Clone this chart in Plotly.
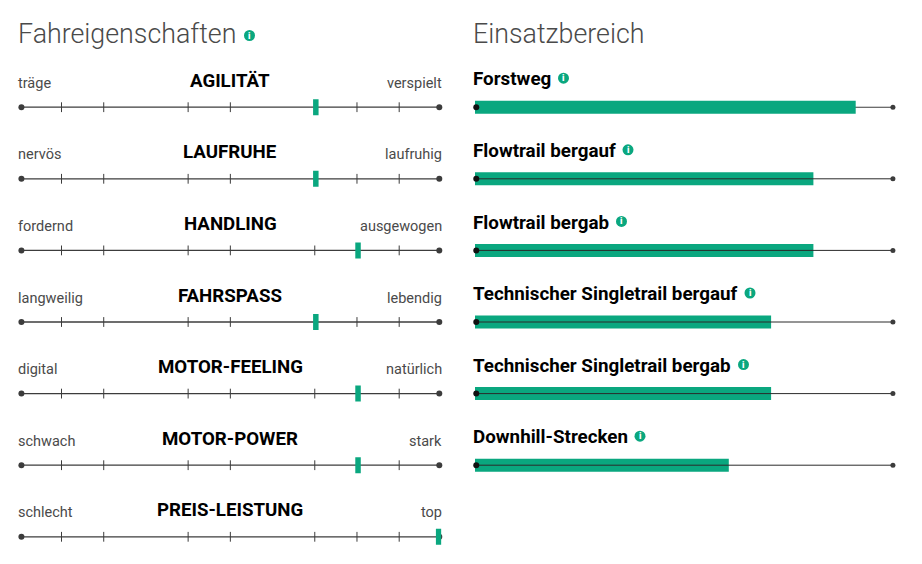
import plotly.graph_objects as go

W, H = 922, 564

# Data
traits = ["AGILITÄT", "LAUFRUHE", "HANDLING", "FAHRSPASS", "MOTOR-FEELING", "MOTOR-POWER", "PREIS-LEISTUNG"]
low_labels = ["träge", "nervös", "fordernd", "langweilig", "digital", "schwach", "schlecht"]
high_labels = ["verspielt", "laufruhig", "ausgewogen", "lebendig", "natürlich", "stark", "top"]
trait_values = [7, 7, 8, 7, 8, 8, 10]
tick_positions = [1, 2, 4, 5, 7, 8, 9]

uses = ["Forstweg", "Flowtrail bergauf", "Flowtrail bergab",
        "Technischer Singletrail bergauf", "Technischer Singletrail bergab", "Downhill-Strecken"]
use_values = [9, 8, 8, 7, 7, 6]

LEFT_TITLE = "Fahreigenschaften"
RIGHT_TITLE = "Einsatzbereich"

# Style
GREEN = "#0aa77f"
DARK = "#3c3c3c"
GREY = "#4a4a4a"
FONT = "Roboto"
ROW0, ROWH = 107.2, 71.6
L_START, L_END = 0.05, 9.95    # where the left scale line starts and stops
R_START, R_END = 0.03, 9.88    # the same for the right scale line
MARK_W = 0.13


def px(x):
    return x / W


def py(y):
    return 1 - y / H


fig = go.Figure()
BASE_L = dict(xaxis="x", yaxis="y")
BASE_R = dict(xaxis="x2", yaxis="y")
MID_L = dict(xaxis="x", yaxis="y2")
MID_R = dict(xaxis="x2", yaxis="y2")
TOP_R = dict(xaxis="x2", yaxis="y3")
rows_l = list(range(len(traits)))
rows_r = list(range(len(uses)))


def line_xy(rows, a, b):
    xs, ys = [], []
    for r in rows:
        xs += [a, b, None]
        ys += [r, r, None]
    return xs, ys


# Left panel: baseline, ticks, end dots, value markers
lx, ly = line_xy(rows_l, L_START, L_END)
fig.add_trace(go.Scatter(x=lx, y=ly, mode="lines", line=dict(color=DARK, width=1.3), **BASE_L))
tx = [t for _ in rows_l for t in tick_positions]
ty = [r for r in rows_l for _ in tick_positions]
fig.add_trace(go.Scatter(x=tx, y=ty, mode="markers",
                         marker=dict(symbol="line-ns", size=7, line=dict(color=DARK, width=1)), **BASE_L))
fig.add_trace(go.Scatter(x=[L_START] * len(rows_l) + [L_END] * len(rows_l), y=rows_l + rows_l, mode="markers",
                         marker=dict(size=6, color=DARK), **BASE_L))
fig.add_trace(go.Bar(x=[MARK_W] * len(rows_l), base=[min(v - 0.04, 10 - MARK_W) for v in trait_values], y=rows_l,
                     orientation="h", width=16 / ROWH, marker=dict(color=GREEN, line=dict(width=0)), **MID_L))

# Right panel: first line sits under its bar, the others run over theirs
rx0, ry0 = line_xy(rows_r[:1], R_START, R_END)
fig.add_trace(go.Scatter(x=rx0, y=ry0, mode="lines", line=dict(color=DARK, width=1.1), **BASE_R))
fig.add_trace(go.Bar(x=use_values, y=rows_r, orientation="h", width=13 / ROWH,
                     marker=dict(color=GREEN, line=dict(width=0)), **MID_R))
rx1, ry1 = line_xy(rows_r[1:], R_START, R_END)
fig.add_trace(go.Scatter(x=rx1, y=ry1, mode="lines", line=dict(color="#2a2a2a", width=1), **TOP_R))
fig.add_trace(go.Scatter(x=[R_START] * len(rows_r), y=rows_r, mode="markers",
                         marker=dict(size=6, color="#111111"), **TOP_R))
fig.add_trace(go.Scatter(x=[R_END] * len(rows_r), y=rows_r, mode="markers",
                         marker=dict(size=5, color=DARK), **TOP_R))

annotations, shapes = [], []


def text(x, y, s, size, color, anchor="left", weight=400):
    annotations.append(dict(x=px(x), y=py(y), xref="paper", yref="paper", text=s, showarrow=False,
                            xanchor=anchor, yanchor="middle", borderpad=0, borderwidth=0,
                            font=dict(family=FONT, size=size, color=color, weight=weight)))


def info(x, y):
    shapes.append(dict(type="circle", xref="paper", yref="paper", x0=px(x - 5.5), x1=px(x + 5.5),
                       y0=py(y + 5.5), y1=py(y - 5.5), fillcolor=GREEN, line=dict(width=0)))
    text(x, y, "i", 9, "white", "center", 900)


text(18, 33.5, LEFT_TITLE, 26.8, GREY, weight=300)
info(249.5, 35.5)
text(473, 33.5, RIGHT_TITLE, 26.8, GREY, weight=300)

for i, (name, lo, hi) in enumerate(zip(traits, low_labels, high_labels)):
    y = ROW0 + i * ROWH
    text(18, y - 24, lo, 14.5, GREY)
    text(441.5, y - 24, hi, 14.5, GREY, "right")
    text(230, y - 26.3, name, 18.7, "#000000", "center", 700)

info_x = [563.5, 628, 621.5, 750, 743.5, 640]
for i, name in enumerate(uses):
    y = ROW0 + i * ROWH
    text(473, y - 27.8, name, 18.8, "#000000", weight=700)
    info(info_x[i], y - 29)

y_range = [(H - ROW0) / ROWH, -ROW0 / ROWH]
hidden = dict(visible=False, fixedrange=True)
fig.update_layout(
    width=W, height=H, autosize=False, showlegend=False, barmode="overlay",
    margin=dict(l=0, r=0, t=0, b=0), paper_bgcolor="white", plot_bgcolor="rgba(0,0,0,0)",
    xaxis=dict(domain=[px(19.3), px(441.4)], range=[0, 10], anchor="y", **hidden),
    xaxis2=dict(domain=[px(475), px(898)], range=[0, 10], anchor="y", **hidden),
    yaxis=dict(range=y_range, **hidden),
    yaxis2=dict(range=y_range, overlaying="y", **hidden),
    yaxis3=dict(range=y_range, overlaying="y", **hidden),
    annotations=annotations, shapes=shapes,
)
fig.update_traces(hoverinfo="skip", cliponaxis=False)
fig.write_html("out.html", config=dict(displayModeBar=False),
               post_script="document.body.style.margin='0';")
